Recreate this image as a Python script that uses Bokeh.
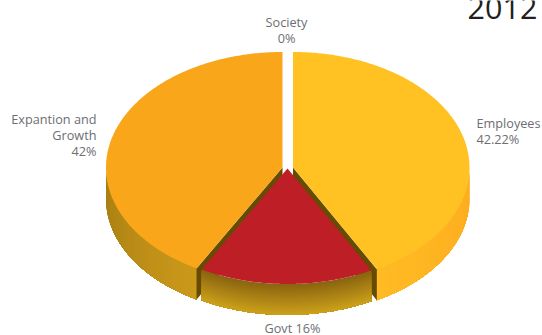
import numpy as np
from bokeh.core.properties import value
from bokeh.embed import file_html
from bokeh.plotting import figure
from bokeh.resources import INLINE

# Slices, clockwise from twelve o'clock
categories = ["Employees", "Govt", "Expantion and Growth", "Society"]
shares = [42.22, 16, 42, 0]
top_colors = ["#FFC222", "#BE1E26", "#F9A61A", "#FFFFFF"]

# Gradient ends of the outer walls
wall_from = ["#FFBA24", "#8A6410", "#A67D12", "#FFFFFF"]
wall_to = ["#FDAC1E", "#CBA01A", "#CB981A", "#FFFFFF"]
cut_color = "#664C00"

# Pie projection in page pixels
RX, RY, DEPTH = 176.5, 115.5, 31
CENTERS = {"Employees": (292.5, 167), "Govt": (287, 168), "Expantion and Growth": (282, 167)}

p = figure(width=542, height=335, x_range=(0, 542), y_range=(335, 0),
           output_backend="svg", toolbar_location=None, min_border=0,
           outline_line_color=None, background_fill_color="white")
p.axis.visible = False
p.grid.visible = False


def rim(cx, cy, a0, a1, n=120):
    t = np.radians(np.linspace(a0, a1, n))
    return cx + RX * np.sin(t), cy - RY * np.cos(t)


def mix(c0, c1, f):
    a = [int(c0[i:i + 2], 16) for i in (1, 3, 5)]
    b = [int(c1[i:i + 2], 16) for i in (1, 3, 5)]
    return "#%02x%02x%02x" % tuple(round(x + (y - x) * f) for x, y in zip(a, b))


total = sum(shares)
spans = {}
start = 0.0
for name, share in zip(categories, shares):
    end = start + share / total * 360
    spans[name] = (start, end)
    start = end

left_name, right_name, mid_name = categories[2], categories[0], categories[1]


def shaded_wall(name, a0, a1, c0, c1, n=40):
    """Outer wall shaded along its length; each step repaints up to the far end."""
    cx, cy = CENTERS[name]
    xs, ys, colors = [], [], []
    for i, a in enumerate(np.linspace(a0, a1, n, endpoint=False)):
        x, y = rim(cx, cy, a, a1, 80)
        xs.append(np.r_[x, x[::-1]].tolist())
        ys.append(np.r_[y, y[::-1] + DEPTH].tolist())
        colors.append(mix(c0, c1, i / (n - 1)))
    p.patches(xs, ys, fill_color=colors, line_color=None)


li = categories.index(left_name)
ri = categories.index(right_name)
mi = categories.index(mid_name)

# Side walls of the two large slices
shaded_wall(left_name, 270, spans[left_name][0], wall_from[li], wall_to[li])
shaded_wall(right_name, 90, spans[right_name][1], wall_to[ri], wall_from[ri])

# Cut faces exposed by the exploded wedge
for name, ang in ((left_name, spans[left_name][0]), (right_name, spans[right_name][1])):
    cx, cy = CENTERS[name]
    ex, ey = rim(cx, cy, ang, ang, 1)
    p.patch([cx, ex[0], ex[0], cx], [cy, ey[0], ey[0] + DEPTH, cy + DEPTH],
            fill_color=cut_color, line_color=None)

# Wedge wall, shaded from its upper rim to its lower rim
cx, cy = CENTERS[mid_name]
a0, a1 = spans[mid_name]
x, y = rim(cx, cy, a0, a1)
bands = 30
band_xs, band_ys, band_cols = [], [], []
for i in range(bands):
    d0 = DEPTH * i / bands
    band_xs.append(np.r_[x, x[::-1]].tolist())
    band_ys.append(np.r_[y + d0, y[::-1] + DEPTH].tolist())
    band_cols.append(mix(wall_from[mi], wall_to[mi], i / (bands - 1)))
p.patches(band_xs, band_ys, fill_color=band_cols, line_color=None)

# Top faces
for name, color in zip(categories, top_colors):
    if name not in CENTERS:
        continue
    cx, cy = CENTERS[name]
    a0, a1 = spans[name]
    x, y = rim(cx, cy, a0, a1, 240)
    p.patch(np.r_[cx, x].tolist(), np.r_[cy, y].tolist(), fill_color=color, line_color=None)

# Labels
label_color = "#6D6E71"
font = value("Open Sans")
size = "12.7px"
p.text([96, 96, 96], [118, 134, 150], text=["Expantion and", "Growth", "42%"], text_font=font,
       text_font_size=size, text_color=label_color, text_align="right", text_baseline="middle")
p.text([286, 286], [21, 37], text=["Society", "0%"], text_font=font, text_font_size=size,
       text_color=label_color, text_align="center", text_baseline="middle")
p.text([476, 476], [122, 138], text=["Employees", "42.22%"], text_font=font, text_font_size=size,
       text_color=label_color, text_align="left", text_baseline="middle")
p.text([292], [327], text=["Govt 16%"], text_font=font, text_font_size=size,
       text_color=label_color, text_align="center", text_baseline="middle")
p.text([502], [7], text=["2012"], text_font=font, text_font_size="30.5px",
       text_color="#231F20", text_align="center", text_baseline="middle")

open("out.html", "w").write(file_html(p, INLINE))
